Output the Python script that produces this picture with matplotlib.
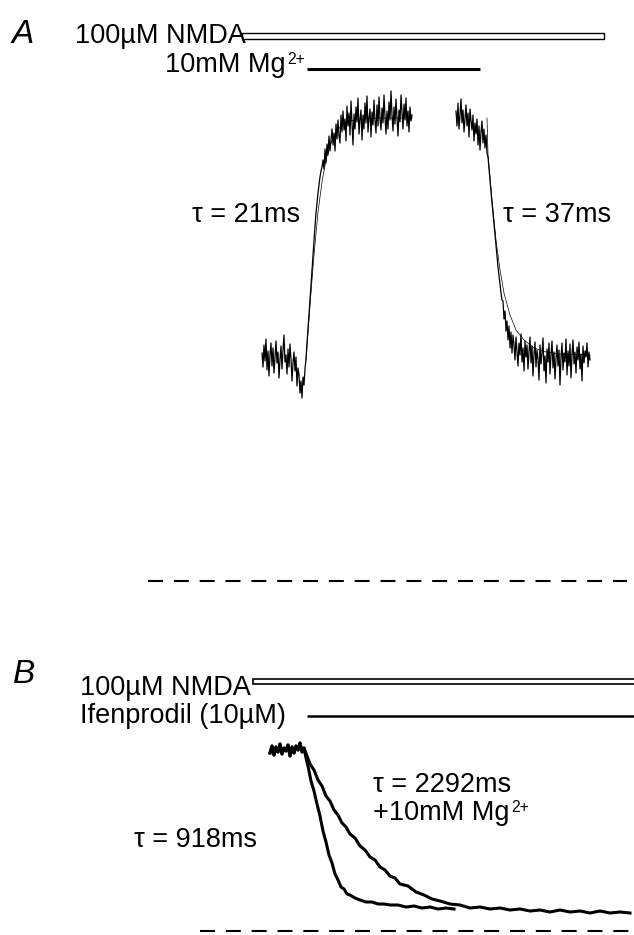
import numpy as np
import matplotlib
matplotlib.use("Agg")
import matplotlib.pyplot as plt
from matplotlib.patches import Rectangle

plt.rcParams['font.family'] = ['Liberation Sans', 'DejaVu Sans']
plt.rcParams['lines.scale_dashes'] = False

# ---- panel A: Mg2+ block / unblock, time in ms (1 ms samples), current in pA ----
a_on_t0 = 0
a_on_i = [228, 214, 236, 220, 242, 211, 230, 205, 226, 238, 215, 233, 208, 224, 240, 218,
          229, 203, 221, 235, 212, 231, 246, 219, 226, 207, 232, 214, 237, 222, 200, 218,
          229, 210, 224, 195, 213, 206, 188, 200, 183, 204, 196, 212, 222,
          238, 252, 266, 281, 296, 311, 326, 341, 355, 368, 378, 388, 396, 404, 410, 414,
          421, 412, 432, 418, 437, 426, 445, 430, 441, 452, 436, 448, 430, 457, 442, 461,
          445, 438, 466, 449, 470, 451, 462, 440, 475, 455, 468, 446, 480, 458, 436, 467,
          452, 474, 459, 483, 447, 462, 471, 441, 466, 452, 478, 458, 485, 449, 463, 472,
          444, 469, 456, 481, 460, 448, 476, 455, 484, 462, 451, 473, 458, 486, 464, 447,
          470, 452, 479, 461, 490, 466, 450, 474, 457, 482, 463, 445, 471, 459, 486, 468,
          452, 477, 461, 483, 455, 470, 449, 474, 460, 466]
a_off_t0 = 194
a_off_i = [470, 455, 478, 452, 466, 482, 458, 471, 449, 463, 476, 455, 468, 444, 472, 460,
           451, 466, 440, 458, 447, 462, 436, 455, 431, 449, 460, 438, 452, 433, 446, 428,
           424, 413, 401, 389, 378, 368, 357, 346, 335, 324, 314, 305, 296, 288, 281, 280,
           262, 270, 250, 260,
           241, 255, 233, 249, 228, 246, 236, 221, 244, 230, 215, 238, 226, 247, 219, 233,
           210, 240, 224, 236, 212, 229, 244, 218, 235, 205, 227, 239, 214, 231, 222, 201,
           236, 217, 228, 243, 210, 225, 198, 232, 219, 238, 207, 226, 240, 213, 229, 202,
           222, 236, 215, 231, 196, 224, 238, 211, 228, 219, 242, 206, 230, 215, 237, 203,
           226, 241, 217, 229, 208, 234, 221, 239, 212, 227, 200, 235, 218, 230, 224, 238,
           214, 229, 221]
# exponential fits (tau = 21 ms and 37 ms)
fit_on_t = [44, 48, 52, 56, 60, 64, 68, 74, 80, 88, 98, 118, 150]
fit_on_i = [221, 276, 326, 369, 399, 421, 436, 449, 456, 460, 462, 463, 463]
fit_off_t = [225, 226, 230, 234, 238, 242, 248, 254, 262, 272, 284, 298, 328]
fit_off_i = [463, 426, 381, 341, 311, 288, 266, 251, 241, 233, 229, 227, 226]
a_nmda = (-20, 342)
a_mg = (45, 218)

# ---- panel B: ifenprodil, time in ms, current in pA ----
b_base_t = [0, 80, 160, 240, 320, 400, 480, 560, 640, 720, 800, 880, 960, 1040, 1120,
            1200, 1280, 1360]
b_base_i = [178, 185, 176, 184, 179, 187, 177, 183, 180, 186, 175, 184, 178, 185, 181,
            188, 179, 183]
b_fast_t = [1440, 1520, 1640, 1760, 1880, 2000, 2120, 2240, 2360, 2480, 2600, 2720,
            2840, 2960, 3080, 3200, 3400, 3600, 3840, 4080, 4320, 4560, 4800, 5120, 5440,
            5760, 6080, 6400, 6720, 7040, 7360]
b_fast_i = [173, 165, 150, 140, 127, 115, 100, 89, 76, 68, 57, 51, 44, 42, 37, 36, 33,
            31, 29, 29, 27, 27, 26, 26, 24, 25, 23, 24, 22, 23, 22]
b_slow_t = [1480, 1600, 1760, 1920, 2080, 2240, 2400, 2560, 2720, 2880, 3040, 3200,
            3400, 3600, 3800, 4000, 4200, 4400, 4600, 4800, 5000, 5200, 5520, 5840, 6160,
            6480, 6800, 7200, 7600, 8000, 8400, 8800, 9200, 9600, 10000, 10400, 10800,
            11200, 11600, 12000, 12400, 12800, 13200, 13600, 14000, 14400]
b_slow_i = [175, 167, 161, 151, 145, 135, 130, 121, 116, 108, 104, 97, 93, 85, 81, 74,
            71, 64, 61, 55, 53, 47, 45, 39, 36, 32, 30, 27, 26, 23, 24, 22, 23, 21, 22, 20,
            21, 19, 21, 19, 20, 18, 20, 18, 19, 18]
b_nmda = (-680, 16000)
b_ifen = (1480, 16000)

W, H = 634, 935
fig = plt.figure(figsize=(W / 100, H / 100), dpi=100)


def put(x, y, s, **kw):
    # place text by pixel position (left, baseline)
    return fig.text(x / W, 1 - y / H, s, va='baseline', ha='left', **kw)


def put_mg(x, y, s, fs):
    # text followed by a small raised "2+"
    t = put(x, y, s, fontsize=fs)
    r = fig.canvas.get_renderer()
    bb = t.get_window_extent(renderer=r)
    fig.text(bb.x1 / W + 1.5 / W, 1 - (y - 8) / H, '2+', fontsize=fs * 0.58,
             va='baseline', ha='left')


axA = fig.add_axes([0, 0, 1, 1], label='A')
axA.set_xlim(-262, 372)
axA.set_ylim(-354, 581)
axA.axis('off')

tA_on = a_on_t0 + np.arange(len(a_on_i))
tA_off = a_off_t0 + np.arange(len(a_off_i))
axA.plot(tA_on, a_on_i, color='black', lw=0.9)
axA.plot(tA_off, a_off_i, color='black', lw=0.9)
axA.plot(fit_on_t, fit_on_i, color='black', lw=0.5)
axA.plot(fit_off_t, fit_off_i, color='black', lw=0.5)
axA.hlines(0, -114, 365, colors='black', lw=1.5, linestyles=(0, (10.8, 7.8)))
axA.add_patch(Rectangle((a_nmda[0], 542), a_nmda[1] - a_nmda[0], 6,
                        facecolor='white', edgecolor='black', lw=1.0))
axA.plot(a_mg, [512, 512], color='black', lw=2.2, solid_capstyle='butt')

axB = fig.add_axes([0, 0, 1, 1], label='B')
axB.set_xlim(-10800, 14560)
axB.set_ylim(-4, 931)
axB.axis('off')
axB.patch.set_alpha(0)

axB.plot(b_base_t + b_fast_t, b_base_i + b_fast_i, color='black', lw=2.2)
axB.plot(b_base_t + b_slow_t, b_base_i + b_slow_i, color='black', lw=2.2)
axB.hlines(0, -2800, 14560, colors='black', lw=1.5, linestyles=(0, (10.8, 7.8)))
axB.add_patch(Rectangle((b_nmda[0], 247), b_nmda[1] - b_nmda[0], 5,
                        facecolor='white', edgecolor='black', lw=1.2))
axB.plot(b_ifen, [215.5, 215.5], color='black', lw=1.8, solid_capstyle='butt')

fs = 19.5
put(12, 43, 'A', fontsize=24, style='italic')
put(75, 43, '100µM NMDA', fontsize=fs)
put_mg(165, 72, '10mM Mg', fs)
put(192, 222, 'τ = 21ms', fontsize=fs)
put(503, 222, 'τ = 37ms', fontsize=fs)

put(13, 683, 'B', fontsize=24, style='italic')
put(80, 695, '100µM NMDA', fontsize=fs)
put(80, 723, 'Ifenprodil (10µM)', fontsize=fs)
put(373, 792, 'τ = 2292ms', fontsize=fs)
put_mg(373, 820, '+10mM Mg', fs)
put(134, 847, 'τ = 918ms', fontsize=fs)

fig.savefig('out.png', dpi=100)
